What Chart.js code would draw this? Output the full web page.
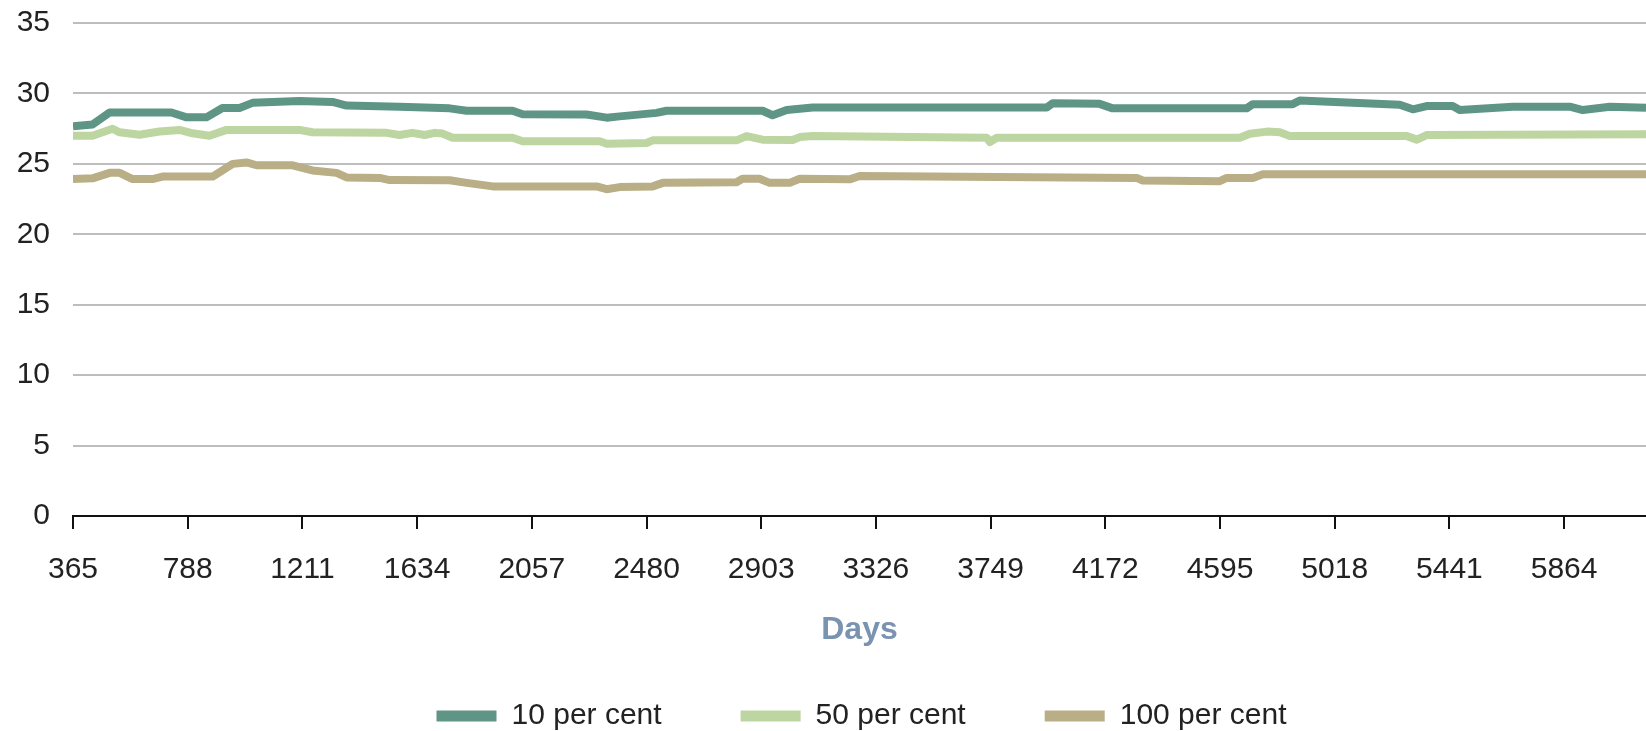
<!DOCTYPE html>
<html>
<head>
<meta charset="utf-8">
<script src="https://cdn.jsdelivr.net/npm/chart.js@4/dist/chart.umd.min.js"></script>
<style>
  html, body { margin: 0; padding: 0; background: #fff; }
  #wrap { width: 1646px; height: 731px; }
</style>
</head>
<body>
<div id="wrap"><canvas id="myChart" width="1646" height="731"></canvas></div>
<script>
// days on the x axis
var seriesNames = ["10 per cent", "50 per cent", "100 per cent"];
var seriesColors = ["#5e9585", "#bdd5a0", "#b9ae86"];

var xTicks = [365, 788, 1211, 1634, 2057, 2480, 2903, 3326, 3749, 4172, 4595, 5018, 5441, 5864];
var yTicks = [0, 5, 10, 15, 20, 25, 30, 35];

var days10 = [365, 437, 500, 728, 784, 857, 916, 979, 1027, 1200, 1322, 1374, 1569, 1754, 1817, 1986, 2023, 2259, 2333, 2381, 2517, 2554, 2908, 2945, 2997, 3093, 3956, 3978, 4151, 4199, 4693, 4716, 4863, 4889, 5258, 5306, 5357, 5453, 5479, 5675, 5885, 5933, 6033, 6166];
var vals10 = [27.66, 27.8, 28.65, 28.65, 28.3, 28.3, 28.97, 28.97, 29.33, 29.46, 29.4, 29.14, 29.06, 28.94, 28.77, 28.77, 28.52, 28.5, 28.28, 28.37, 28.62, 28.77, 28.77, 28.45, 28.82, 29.0, 29.0, 29.3, 29.26, 28.94, 28.94, 29.24, 29.24, 29.5, 29.2, 28.87, 29.1, 29.1, 28.82, 29.06, 29.06, 28.82, 29.06, 28.99];

var days50 = [365, 437, 511, 537, 610, 684, 758, 806, 868, 931, 1200, 1248, 1522, 1569, 1617, 1662, 1699, 1728, 1765, 1986, 2023, 2307, 2333, 2480, 2503, 2812, 2849, 2908, 3019, 3045, 3093, 3735, 3746, 3772, 4668, 4705, 4768, 4816, 4853, 5284, 5321, 5357, 6166];
var vals50 = [27.0, 27.0, 27.49, 27.24, 27.07, 27.3, 27.41, 27.17, 27.0, 27.41, 27.41, 27.24, 27.2, 27.05, 27.2, 27.05, 27.2, 27.15, 26.85, 26.85, 26.6, 26.6, 26.43, 26.48, 26.67, 26.67, 26.97, 26.72, 26.7, 26.9, 26.97, 26.85, 26.55, 26.85, 26.85, 27.14, 27.29, 27.25, 26.97, 26.97, 26.72, 27.04, 27.1];

var days100 = [365, 437, 500, 537, 585, 658, 695, 880, 954, 1005, 1042, 1175, 1248, 1337, 1374, 1496, 1533, 1754, 1817, 1913, 2296, 2333, 2381, 2503, 2540, 2812, 2834, 2897, 2934, 3008, 3045, 3229, 3266, 4288, 4310, 4594, 4620, 4716, 4753, 6166];
var vals100 = [23.92, 23.97, 24.36, 24.36, 23.92, 23.92, 24.1, 24.1, 25.0, 25.1, 24.9, 24.9, 24.53, 24.36, 24.04, 24.0, 23.85, 23.84, 23.65, 23.4, 23.4, 23.2, 23.35, 23.4, 23.65, 23.7, 23.94, 23.94, 23.65, 23.65, 23.94, 23.9, 24.14, 24.0, 23.82, 23.77, 24.0, 24.0, 24.26, 24.26];

function pairs(xs, ys) {
  return xs.map(function(x, i) { return {x: x, y: ys[i]}; });
}

var allDays = [days10, days50, days100];
var allVals = [vals10, vals50, vals100];

var datasets = seriesNames.map(function(name, i) {
  return {
    label: name,
    data: pairs(allDays[i], allVals[i]),
    borderColor: seriesColors[i],
    backgroundColor: seriesColors[i],
    borderWidth: 8,
    pointRadius: 0,
    tension: 0,
    borderJoinStyle: "round"
  };
});

var fontSize = 30;
var legendPad = 79;

Chart.defaults.font.family = "'Liberation Sans', Arial, sans-serif";
Chart.defaults.font.size = fontSize;
Chart.defaults.color = "#222";

// move the legend under the plot area
var legendMover = {
  id: "legendMover",
  afterLayout: function(c) {
    var l = c.legend;
    var h = l.bottom - l.top;
    l.left = c.chartArea.left + 4;
    l.top = c.height - 15 - legendPad - fontSize / 2;
    l.bottom = l.top + h;
  }
};

var ctx = document.getElementById("myChart").getContext("2d");
var myChart = new Chart(ctx, {
  type: "line",
  data: { datasets: datasets },
  plugins: [legendMover],
  options: {
    responsive: false,
    animation: false,
    layout: { padding: { top: 23, right: 0, bottom: -37, left: 0 } },
    scales: {
      x: {
        type: "linear",
        min: xTicks[0],
        max: 6166,
        afterBuildTicks: function(s) {
          s.ticks = xTicks.map(function(v) { return {value: v}; });
        },
        afterFit: function(s) {
          s.height = 133;
          s.paddingLeft = 0;
          s.paddingRight = 0;
        },
        ticks: {
          padding: 23,
          maxRotation: 0,
          autoSkip: false,
          color: "#222",
          callback: function(v) { return String(v); }
        },
        grid: {
          drawOnChartArea: false,
          drawTicks: true,
          tickLength: 13,
          color: "#111",
          lineWidth: 2
        },
        border: { display: true, color: "#111", width: 2 },
        title: {
          display: true,
          text: "Days",
          color: "#7a93b0",
          font: { size: 32, weight: "bold" },
          padding: { top: 0, bottom: 0 }
        }
      },
      y: {
        min: 0,
        max: 35,
        afterBuildTicks: function(s) {
          s.ticks = yTicks.map(function(v) { return {value: v}; });
        },
        afterFit: function(s) {
          s.width = 73;
          s.paddingTop = 0;
          s.paddingBottom = 0;
        },
        ticks: { padding: 23, color: "#222" },
        grid: {
          drawTicks: false,
          lineWidth: 2,
          color: function(c) { return c.tick && c.tick.value === 0 ? "rgba(0,0,0,0)" : "#bdbdbd"; }
        },
        border: { display: false }
      }
    },
    plugins: {
      tooltip: { enabled: false },
      legend: {
        position: "bottom",
        labels: {
          boxWidth: 60,
          boxHeight: 11,
          padding: legendPad,
          color: "#222",
          generateLabels: function(chart) {
            return Chart.defaults.plugins.legend.labels.generateLabels(chart).map(function(item) {
              item.lineWidth = 0;
              return item;
            });
          }
        }
      }
    }
  }
});
</script>
</body>
</html>
